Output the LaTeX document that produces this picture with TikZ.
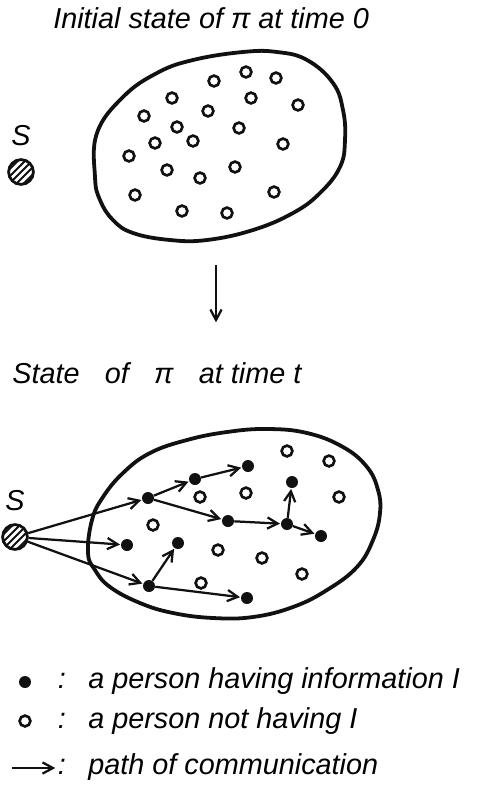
\documentclass[tikz,border=0pt]{standalone}
\usepackage{xcolor}
\usepackage{fontspec}
\setmainfont{Liberation Sans}
\usepackage{tikz}
\usetikzlibrary{positioning,arrows.meta}
\definecolor{ink}{HTML}{111111}

\tikzset{
  emptyp/.style={circle,draw=ink,line width=1.9pt,minimum size=2.7mm,inner sep=0},
  fullp/.style={circle,fill=ink,minimum size=3mm,inner sep=0},
  source/.style={circle,draw=ink,line width=2pt,minimum size=6.2mm,inner sep=0,
    path picture={\foreach \d in {-10,-5,0,5,10}
      \draw[ink,line width=1.3pt] ([xshift=\d pt-9pt,yshift=-9pt]path picture bounding box.center)
        -- ([xshift=\d pt+9pt,yshift=9pt]path picture bounding box.center);}},
  comm/.style={ink,line width=1.6pt,-{Straight Barb[length=2.6mm,width=2.8mm]},shorten >=0.5pt},
  blob/.style={ink,line width=2.7pt},
  lab/.style={inner sep=0,font=\fontsize{20.5}{24}\selectfont\itshape}
}

\begin{document}
\begin{tikzpicture}[x=0.25mm,y=-0.25mm]
  \useasboundingbox (0,0) rectangle (480,786);

  % time 0
  \node[lab,anchor=base west] (title0) at (53,28) {Initial state of π at time 0};
  \draw[blob] plot[smooth cycle,tension=0.7] coordinates {(97,133) (123,97) (157,73) (193,60) (243,52) (277,52) (307,60) (333,83) (343,110) (345,140) (340,167) (320,193) (293,213) (253,230) (207,240) (170,240) (133,233) (113,220) (100,200) (95,177)};
  \node[source] (src0) at (21,172) {};
  \node[lab,above=3mm of src0] (s0) {S};
  \foreach \x/\y [count=\i] in {214/81,246/72,276/78,172/98,251/98,298/105,144/116,208/111,177/127,239/128,155/143,193/141,283/144,129/156,167/170,235/167,200/178,135/195,274/192,182/211,227/213}
    \node[emptyp] (q\i) at (\x,\y) {};

  \coordinate (dtop) at (216,265);
  \coordinate (dbot) at (216,323);
  \draw[comm] (dtop) -- (dbot);

  % time t
  \node[lab,anchor=base west] (titlet) at (12,383) {State\hspace{0.6em} of\hspace{0.6em} π\hspace{0.6em} at time t};
  \draw[blob] plot[smooth cycle,tension=0.7] coordinates {(88,553) (92,520) (103,497) (123,473) (150,453) (187,440) (227,432) (267,429) (307,433) (343,447) (367,467) (378,490) (380,513) (373,540) (357,567) (327,590) (293,607) (253,617) (213,618) (173,613) (140,603) (110,587) (95,570)};
  \node[source] (src) at (15,537) {};
  \node[lab,above=3mm of src] (s1) {S};
  \foreach \x/\y [count=\i] in {287/451,329/461,200/497,246/493,339/497,153/525,218/550,262/558,302/574,201/583}
    \node[emptyp] (r\i) at (\x,\y) {};
  \foreach \n/\x/\y in {a/148/498,b/195/479,c/248/466,d/228/521,e/287/524,f/292/482,g/321/536,h/127/545,i/178/543,j/149/586,k/247/598}
    \node[fullp] (\n) at (\x,\y) {};
  \foreach \u/\v in {src/a,src/h,src/j,a/b,b/c,a/d,d/e,e/f,e/g,j/i,j/k}
    \draw[comm] (\u) -- (\v);

  % key
  \node[fullp] (kfull) at (25,682) {};
  \node[emptyp] (kempty) at (25,721) {};
  \coordinate (kstart) at (12,768);
  \coordinate (kend) at (56,768);
  \draw[comm] (kstart) -- (kend);
  \foreach \y/\txt [count=\i] in {688/{a person having information I},728/{a person not having I},774/{path of communication}}
  {
    \node[lab,anchor=base] (col\i) at (62,\y) {:};
    \node[lab,anchor=base west] (key\i) at (88,\y) {\txt};
  }
\end{tikzpicture}
\end{document}
